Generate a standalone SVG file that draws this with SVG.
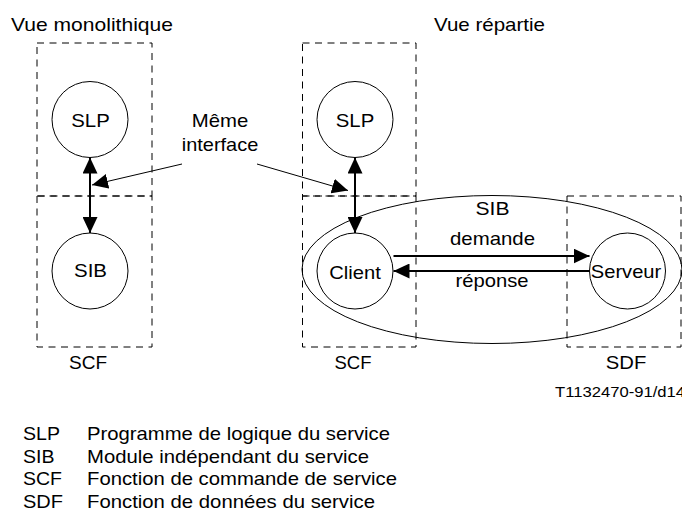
<svg xmlns="http://www.w3.org/2000/svg" width="682" height="515" viewBox="0 0 682 515">
  <style>
    text { font-family: "Liberation Sans", Arial, sans-serif; font-size: 19px; fill: #000; }
    .mid { text-anchor: middle; }
    .small { font-size: 14px; }
    .zone { fill: none; stroke: #000; stroke-width: 1; stroke-dasharray: 7 5.5; }
    .node { fill: #fff; stroke: #000; stroke-width: 1; }
    .wrap { fill: none; stroke: #000; stroke-width: 1; }
    .link { fill: none; stroke: #000; stroke-width: 2; }
    .pointer { fill: none; stroke: #000; stroke-width: 1; }
  </style>
  <defs>
    <marker id="head" viewBox="0 0 16 15" refX="16" refY="7.5" markerWidth="16" markerHeight="15" markerUnits="userSpaceOnUse" orient="auto-start-reverse">
      <path d="M0,0 L16,7.5 L0,15 z" fill="#000"/>
    </marker>
  </defs>

  <rect width="682" height="515" fill="#fff"/>

  <!-- view titles -->
  <text x="11" y="31" textLength="162" lengthAdjust="spacingAndGlyphs">Vue monolithique</text>
  <text x="434" y="31" textLength="111" lengthAdjust="spacingAndGlyphs">Vue répartie</text>

  <!-- functional entities (dashed zones) -->
  <g id="scf-mono">
    <rect class="zone" x="37" y="43" width="115" height="153"/>
    <rect class="zone" x="37" y="196" width="115" height="151"/>
    <text class="mid" x="88" y="369" textLength="38" lengthAdjust="spacingAndGlyphs">SCF</text>
  </g>
  <g id="scf-dist">
    <rect class="zone" x="302.5" y="43" width="113.5" height="153"/>
    <rect class="zone" x="302.5" y="196" width="113.5" height="151"/>
    <text class="mid" x="353" y="369" textLength="37" lengthAdjust="spacingAndGlyphs">SCF</text>
  </g>
  <g id="sdf">
    <rect class="zone" x="567" y="196" width="114" height="151"/>
    <text class="mid" x="626" y="369" textLength="40.5" lengthAdjust="spacingAndGlyphs">SDF</text>
  </g>

  <!-- distributed SIB envelope -->
  <g id="sib-dist">
    <ellipse class="wrap" cx="492" cy="269.5" rx="190" ry="74"/>
    <text class="mid" x="492.5" y="215" textLength="34" lengthAdjust="spacingAndGlyphs">SIB</text>
  </g>

  <!-- nodes -->
  <g id="slp-mono">
    <circle class="node" cx="90" cy="119.5" r="38"/>
    <text class="mid" x="90.5" y="127" textLength="38.5" lengthAdjust="spacingAndGlyphs">SLP</text>
  </g>
  <g id="sib-mono">
    <circle class="node" cx="90" cy="271" r="38"/>
    <text class="mid" x="90.5" y="277" textLength="33" lengthAdjust="spacingAndGlyphs">SIB</text>
  </g>
  <g id="slp-dist">
    <circle class="node" cx="355" cy="119.5" r="38"/>
    <text class="mid" x="355" y="127" textLength="38.5" lengthAdjust="spacingAndGlyphs">SLP</text>
  </g>
  <g id="client">
    <circle class="node" cx="355" cy="271" r="38"/>
    <text class="mid" x="355" y="279" textLength="51.5" lengthAdjust="spacingAndGlyphs">Client</text>
  </g>
  <g id="serveur">
    <circle class="node" cx="627.5" cy="271" r="38"/>
    <text class="mid" x="626" y="278" textLength="70.5" lengthAdjust="spacingAndGlyphs">Serveur</text>
  </g>

  <!-- connectors -->
  <g id="connectors">
    <line class="link" x1="90" y1="157.5" x2="90" y2="233" marker-start="url(#head)" marker-end="url(#head)"/>
    <line class="link" x1="355" y1="157.5" x2="355" y2="233" marker-start="url(#head)" marker-end="url(#head)"/>
    <line class="link" x1="393.5" y1="256" x2="589.5" y2="256" marker-end="url(#head)"/>
    <line class="link" x1="589.5" y1="271" x2="393.5" y2="271" marker-end="url(#head)"/>
    <line class="pointer" x1="182" y1="164" x2="92" y2="185" marker-end="url(#head)"/>
    <line class="pointer" x1="257" y1="164" x2="348" y2="190.5" marker-end="url(#head)"/>
  </g>

  <!-- connector labels -->
  <text class="mid" x="220" y="127" textLength="56.5" lengthAdjust="spacingAndGlyphs">Même</text>
  <text class="mid" x="220" y="151" textLength="76.5" lengthAdjust="spacingAndGlyphs">interface</text>
  <text class="mid" x="492.5" y="245" textLength="85" lengthAdjust="spacingAndGlyphs">demande</text>
  <text class="mid" x="492" y="287" textLength="73" lengthAdjust="spacingAndGlyphs">réponse</text>

  <!-- figure reference -->
  <text class="small" x="555" y="396.5" textLength="130" lengthAdjust="spacingAndGlyphs">T1132470-91/d14</text>

  <!-- legend -->
  <g id="legend">
    <text x="23" y="440" textLength="37" lengthAdjust="spacingAndGlyphs">SLP</text>
    <text x="87" y="440" textLength="303" lengthAdjust="spacingAndGlyphs">Programme de logique du service</text>
    <text x="23" y="462.5" textLength="31.5" lengthAdjust="spacingAndGlyphs">SIB</text>
    <text x="87" y="462.5" textLength="282" lengthAdjust="spacingAndGlyphs">Module indépendant du service</text>
    <text x="23" y="485" textLength="39" lengthAdjust="spacingAndGlyphs">SCF</text>
    <text x="87" y="485" textLength="310" lengthAdjust="spacingAndGlyphs">Fonction de commande de service</text>
    <text x="23" y="507.5" textLength="40" lengthAdjust="spacingAndGlyphs">SDF</text>
    <text x="87" y="507.5" textLength="288" lengthAdjust="spacingAndGlyphs">Fonction de données du service</text>
  </g>
</svg>
